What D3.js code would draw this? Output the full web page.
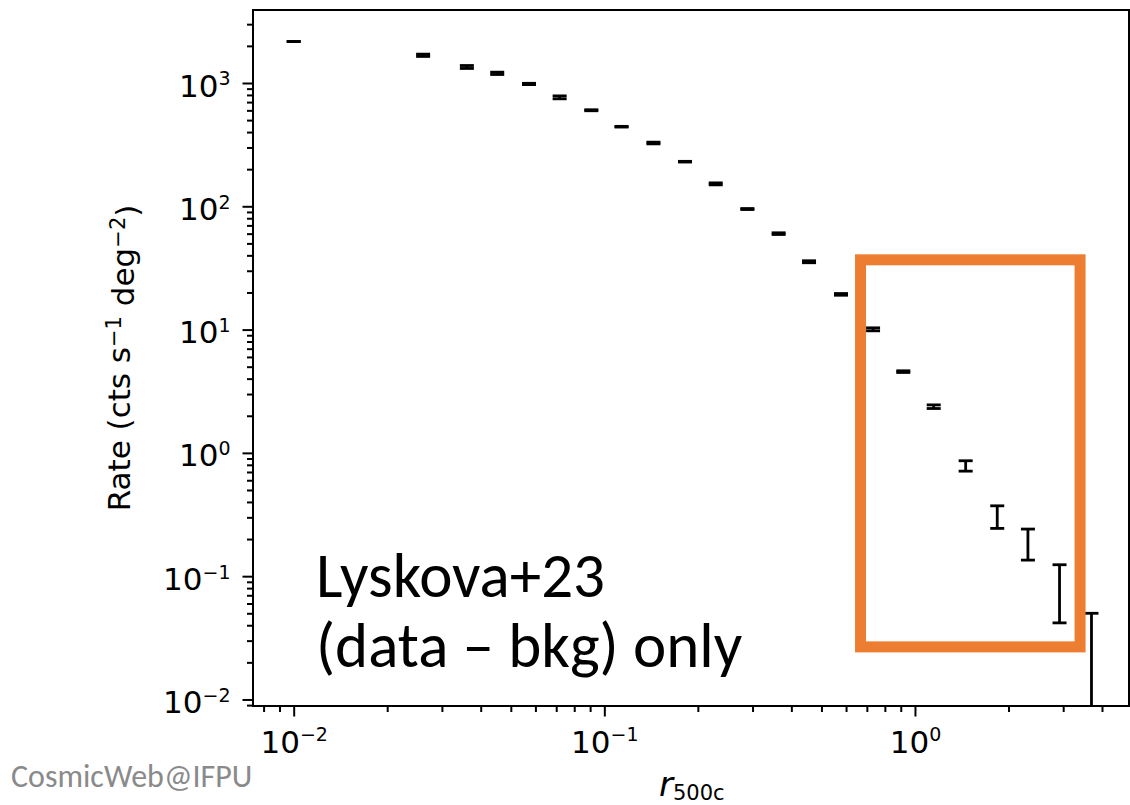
<!DOCTYPE html>
<html>

<head>
    <script src="https://cdnjs.cloudflare.com/ajax/libs/d3/7.8.5/d3.min.js"></script>
    <style>
        body {
            margin: 0;
            background: white;
        }

        .tick text {
            font-family: 'DejaVu Sans', sans-serif;
            fill: black;
        }

        .note {
            font-family: Carlito, Lato, 'Open Sans', sans-serif;
        }
    </style>
</head>

<body>
    <script>
        // radial profile: r/r500c, rate and 1-sigma error
        const radius = [0.01, 0.0261, 0.0361, 0.0452, 0.0572, 0.0718, 0.0908, 0.1136, 0.1439, 0.1818, 0.2283, 0.2887,
            0.364, 0.456, 0.578, 0.733, 0.917, 1.149, 1.456, 1.84, 2.31, 2.92, 3.70]
        const rate = [2170, 1678, 1349, 1198, 982, 765, 601, 442, 326, 230, 152, 95,
            60, 35.5, 19.3, 10.05, 4.56, 2.37, 0.787, 0.308, 0.188, 0.0828, 0.006]
        const rateErr = [2, 36, 37, 26, 12, 21, 5.6, 2.9, 5.2, 1.5, 2.8, 0.9,
            0.95, 0.66, 0.31, 0.28, 0.072, 0.08, 0.076, 0.064, 0.053, 0.041, 0.044]

        const xMajor = [1e-2, 1e-1, 1e0]
        const yMajor = [1e-2, 1e-1, 1e0, 1e1, 1e2, 1e3]
        const xExp = ['\u22122', '\u22121', '0']
        const yExp = ['\u22122', '\u22121', '0', '1', '2', '3']

        // highlighted outer bins
        const boxR = [0.668, 3.40]
        const boxRate = [0.0267, 36.8]

        const w = 1130
        const h = 805
        const m = { left: 253, right: 1129, top: 10, bottom: 706 }

        const svg = d3.select("body")
            .append("svg")
            .attr("width", w)
            .attr("height", h)

        const x = d3.scaleLog()
            .domain([Math.pow(10, -2.131), Math.pow(10, 0.689)])
            .range([m.left, m.right])
        const y = d3.scaleLog()
            .domain([Math.pow(10, -2.053), Math.pow(10, 3.592)])
            .range([m.bottom, m.top])

        // minor ticks 2..9 of each decade inside the domain
        function minors(scale) {
            let [a, b] = scale.domain()
            let out = []
            for (let e = Math.floor(Math.log10(a)); e <= Math.ceil(Math.log10(b)); e++) {
                for (let k = 2; k < 10; k++) {
                    let v = k * Math.pow(10, e)
                    if (v >= a && v <= b) out.push(v)
                }
            }
            return out
        }

        function powerLabel(sel, exps, values) {
            sel.selectAll(".tick text").each(function (d) {
                let t = d3.select(this).text(null)
                t.append("tspan").text("10")
                t.append("tspan")
                    .attr("dy", "-0.58em")
                    .style("font-size", "19px")
                    .text(exps[values.indexOf(d)])
            })
        }

        // minor ticks
        svg.append("g")
            .attr("transform", `translate(0,${m.bottom})`)
            .call(d3.axisBottom(x).tickValues(minors(x)).tickSize(6).tickFormat(""))
            .call(g => g.select(".domain").remove())
            .selectAll("line").attr("stroke-width", 2)
        svg.append("g")
            .attr("transform", `translate(${m.left},0)`)
            .call(d3.axisLeft(y).tickValues(minors(y)).tickSize(6).tickFormat(""))
            .call(g => g.select(".domain").remove())
            .selectAll("line").attr("stroke-width", 2)

        // major ticks
        const xAxis = svg.append("g")
            .attr("transform", `translate(0,${m.bottom})`)
            .call(d3.axisBottom(x).tickValues(xMajor).tickSize(10.5).tickPadding(14))
        xAxis.select(".domain").remove()
        xAxis.selectAll("line").attr("stroke-width", 2)
        xAxis.selectAll("text").style("font-size", "31px")
        powerLabel(xAxis, xExp, xMajor)

        const yAxis = svg.append("g")
            .attr("transform", `translate(${m.left},0)`)
            .call(d3.axisLeft(y).tickValues(yMajor).tickSize(10.5).tickPadding(12))
        yAxis.select(".domain").remove()
        yAxis.selectAll("line").attr("stroke-width", 2)
        yAxis.selectAll("text").style("font-size", "31px").attr("dy", "0.42em")
        powerLabel(yAxis, yExp, yMajor)

        // frame
        svg.append("rect")
            .attr("x", m.left)
            .attr("y", m.top)
            .attr("width", m.right - m.left)
            .attr("height", m.bottom - m.top)
            .attr("fill", "none")
            .attr("stroke", "black")
            .attr("stroke-width", 2)

        svg.append("clipPath").attr("id", "plotclip")
            .append("rect")
            .attr("x", m.left).attr("y", m.top)
            .attr("width", m.right - m.left).attr("height", m.bottom - m.top)

        // error bars, no markers
        const pts = radius.map((r, i) => ({ r: r, v: rate[i], e: rateErr[i] }))
        const lo = d => Math.max(d.v - d.e, y.domain()[0])
        const cap = 7

        const bars = svg.append("g")
            .attr("clip-path", "url(#plotclip)")
            .attr("stroke", "black")
            .attr("stroke-width", 2.8)
            .selectAll("g")
            .data(pts)
            .join("g")

        bars.append("line")
            .attr("x1", d => x(d.r)).attr("x2", d => x(d.r))
            .attr("y1", d => y(d.v + d.e)).attr("y2", d => y(lo(d)))
        bars.append("line")
            .attr("x1", d => x(d.r) - cap).attr("x2", d => x(d.r) + cap)
            .attr("y1", d => y(d.v + d.e)).attr("y2", d => y(d.v + d.e))
        bars.filter(d => d.v - d.e > 0)
            .append("line")
            .attr("x1", d => x(d.r) - cap).attr("x2", d => x(d.r) + cap)
            .attr("y1", d => y(d.v - d.e)).attr("y2", d => y(d.v - d.e))

        // axis titles
        const ylab = svg.append("text")
            .attr("transform", "translate(130,358) rotate(-90)")
            .attr("text-anchor", "middle")
            .style("font-family", "'DejaVu Sans', sans-serif")
            .style("font-size", "31px")
        ylab.append("tspan").text("Rate (cts s")
        ylab.append("tspan").attr("dy", "-0.42em").style("font-size", "21px").text("\u22121")
        ylab.append("tspan").attr("dy", "0.42em").text(" deg")
        ylab.append("tspan").attr("dy", "-0.42em").style("font-size", "21px").text("\u22122")
        ylab.append("tspan").attr("dy", "0.42em").text(")")

        const xlab = svg.append("text")
            .attr("x", 659)
            .attr("y", 796)
            .style("font-family", "'DejaVu Sans', sans-serif")
        xlab.append("tspan").style("font-style", "italic").style("font-size", "34px").text("r")
        xlab.append("tspan").attr("dy", 4).style("font-size", "21px").text("500c")

        // highlight box
        svg.append("rect")
            .attr("x", x(boxR[0]))
            .attr("y", y(boxRate[1]))
            .attr("width", x(boxR[1]) - x(boxR[0]))
            .attr("height", y(boxRate[0]) - y(boxRate[1]))
            .attr("fill", "none")
            .attr("stroke", "#ED7D31")
            .attr("stroke-width", 11)

        // annotation
        svg.append("text").attr("class", "note")
            .attr("x", 316).attr("y", 597)
            .style("font-size", "63px")
            .text("Lyskova+23")
        svg.append("text").attr("class", "note")
            .attr("x", 316).attr("y", 667)
            .style("font-size", "63px")
            .text("(data \u2013 bkg) only")

        svg.append("text").attr("class", "note")
            .attr("x", 11).attr("y", 787)
            .style("font-size", "32px")
            .attr("fill", "#8a8a8a")
            .text("CosmicWeb@IFPU")
    </script>
</body>

</html>
